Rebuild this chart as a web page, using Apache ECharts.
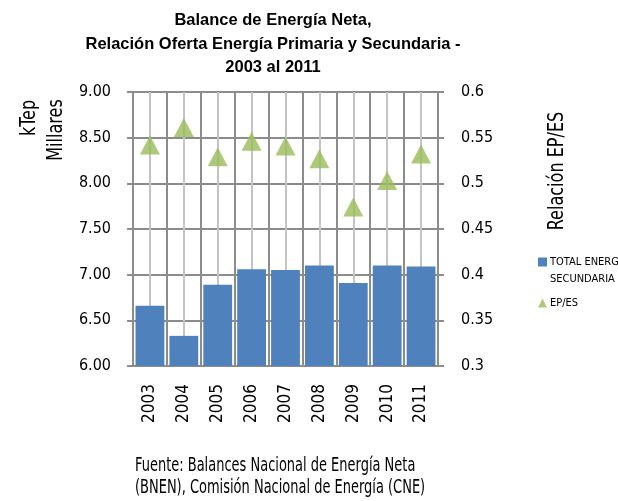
<!DOCTYPE html>
<html lang="es">
  <meta charset="utf-8" />
  <head>
    <title>Balance de Energía Neta</title>
    <script src="https://cdn.jsdelivr.net/npm/echarts@6/dist/echarts.min.js"></script>
  </head>
  <style>
    * {
      margin: 0;
      padding: 0;
    }

    body {
      width: 618px;
      height: 501px;
      background: #fff;
    }

    #main {
      width: 618px;
      height: 501px;
    }
  </style>
  <body>
    <div id="main"></div>
    <script>
      const years = ["2003", "2004", "2005", "2006", "2007", "2008", "2009", "2010", "2011"];
      // TOTAL ENERGIA SECUNDARIA, kTep (millares)
      const secundaria = [6.66, 6.33, 6.89, 7.06, 7.05, 7.10, 6.91, 7.10, 7.09];
      // EP/ES ratio
      const relacion = [0.542, 0.561, 0.529, 0.546, 0.541, 0.527, 0.474, 0.503, 0.532];

      const narrow = "'DejaVu Sans Condensed', 'Liberation Sans Narrow', sans-serif";
      const darkGrid = "#8c8c8c";
      const lightGrid = "#c4c4c4";
      const barName = "TOTAL ENERGIA\nSECUNDARIA";

      const chart = echarts.init(document.getElementById("main"));

      const option = {
        animation: false,
        title: {
          text: "Balance de Energía Neta,\nRelación Oferta Energía Primaria y Secundaria -\n2003 al 2011",
          left: 268,
          top: 4,
          textAlign: "center",
          textStyle: {
            fontFamily: "'Liberation Sans', Arial, sans-serif",
            fontWeight: "bold",
            fontSize: 16.5,
            lineHeight: 23.5,
            color: "#000",
          },
        },
        legend: {
          orient: "vertical",
          left: 533,
          top: 231.5,
          itemWidth: 9,
          itemHeight: 9,
          itemGap: 7,
          // blank first line so the marker sits on "TOTAL ENERGIA", as in Excel
          formatter: function (name) {
            return name === barName ? " \n" + name : name;
          },
          textStyle: {
            fontFamily: narrow,
            fontSize: 11,
            lineHeight: 17,
            color: "#000",
            padding: [0, 0, 0, -2],
          },
          data: [
            { name: barName, icon: "rect" },
            { name: "EP/ES", icon: "triangle" },
          ],
        },
        grid: {
          left: 133,
          right: 180,
          top: 92,
          bottom: 135,
        },
        xAxis: [
          {
            type: "category",
            data: years,
            axisLine: { lineStyle: { color: darkGrid, width: 2 } },
            axisTick: { length: 6, lineStyle: { color: darkGrid, width: 2 } },
            axisLabel: {
              rotate: 90,
              margin: 18,
              fontFamily: narrow,
              fontSize: 17,
              color: "#000",
            },
            splitLine: { show: false },
          },
          {
            type: "value",
            min: 0,
            max: 9,
            interval: 0.5,
            position: "bottom",
            axisLine: { show: false },
            axisTick: { show: false },
            axisLabel: { show: false },
            splitLine: {
              show: true,
              lineStyle: { color: [darkGrid, lightGrid], width: 2 },
            },
          },
        ],
        yAxis: [
          {
            type: "value",
            min: 6,
            max: 9,
            interval: 0.5,
            axisLine: { show: true, lineStyle: { color: darkGrid, width: 2 } },
            axisTick: { show: true, length: 6, lineStyle: { color: darkGrid, width: 2 } },
            axisLabel: {
              margin: 22,
              fontFamily: narrow,
              fontSize: 16,
              color: "#000",
              formatter: function (v) {
                return v.toFixed(2);
              },
            },
            splitLine: { lineStyle: { color: darkGrid, width: 2 } },
          },
          {
            type: "value",
            min: 0.3,
            max: 0.6,
            interval: 0.05,
            axisLine: { show: true, lineStyle: { color: darkGrid, width: 2 } },
            axisTick: { show: true, length: 6, lineStyle: { color: darkGrid, width: 2 } },
            axisLabel: {
              margin: 23,
              fontFamily: narrow,
              fontSize: 16,
              color: "#000",
              formatter: function (v) {
                return String(Math.round(v * 100) / 100);
              },
            },
            splitLine: { show: false },
          },
        ],
        graphic: [
          {
            type: "text",
            x: 30,
            y: 118,
            rotation: Math.PI / 2,
            scaleX: 0.85,
            style: {
              text: "kTep",
              font: "21px " + narrow,
              fill: "#000",
              align: "center",
              verticalAlign: "middle",
            },
          },
          {
            type: "text",
            x: 57,
            y: 130,
            rotation: Math.PI / 2,
            scaleX: 0.85,
            style: {
              text: "Millares",
              font: "21px " + narrow,
              fill: "#000",
              align: "center",
              verticalAlign: "middle",
            },
          },
          {
            type: "text",
            x: 558,
            y: 171,
            rotation: Math.PI / 2,
            scaleX: 0.85,
            style: {
              text: "Relación EP/ES",
              font: "21px " + narrow,
              fill: "#000",
              align: "center",
              verticalAlign: "middle",
            },
          },
          {
            type: "text",
            x: 135,
            y: 477,
            scaleX: 0.76,
            style: {
              text: "Fuente: Balances Nacional de Energía Neta\n(BNEN), Comisión Nacional de Energía (CNE)",
              font: "19px " + narrow,
              lineHeight: 22,
              fill: "#000",
              align: "left",
              verticalAlign: "middle",
            },
          },
        ],
        series: [
          {
            name: barName,
            type: "bar",
            xAxisIndex: 0,
            yAxisIndex: 0,
            data: secundaria,
            barWidth: "85%",
            itemStyle: { color: "#4f81bd" },
          },
          {
            name: "EP/ES",
            type: "scatter",
            xAxisIndex: 0,
            yAxisIndex: 1,
            data: relacion,
            symbol: "triangle",
            symbolSize: [20, 19],
            itemStyle: { color: "#9bbb59" },
          },
        ],
      };

      chart.setOption(option);
    </script>
  </body>
</html>
